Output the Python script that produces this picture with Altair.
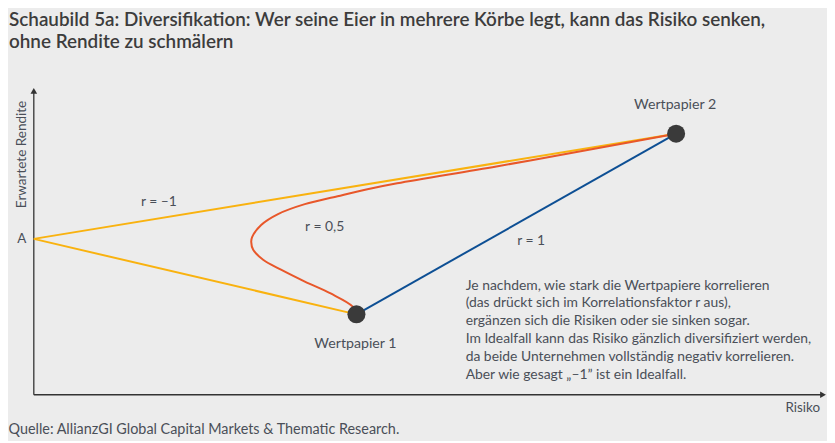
import altair as alt
import pandas as pd

# r = -1 (yellow): Wertpapier 1 -> A -> Wertpapier 2
neg_x = [325, 0, 647]
neg_y = [81, 157, 263]

# r = 1 (blue): straight line
pos_x = [325, 647]
pos_y = [81, 263]

# r = 0,5 (orange) curve
half_x = [325, 321, 299, 273, 249, 231, 221, 219, 220, 229, 246, 273, 306, 336, 366, 466, 566, 647]
half_y = [81, 89, 102, 114, 126, 136, 146, 154, 159, 171, 182, 192, 200, 207, 213, 230, 248, 263]

pt_names = ["Wertpapier 1", "Wertpapier 2"]
pt_x = [325, 647]
pt_y = [81, 263]
pt_label_x = [324, 646]
pt_label_y = [51, 292]

r_labels = ["r = \u20131", "r = 0,5", "r = 1"]
r_x = [126, 293, 501]
r_y = [194, 169, 155]

note_lines = [
    "Je nachdem, wie stark die Wertpapiere korrelieren",
    "(das drückt sich im Korrelationsfaktor r aus),",
    "ergänzen sich die Risiken oder sie sinken sogar.",
    "Im Idealfall kann das Risiko gänzlich diversifiziert werden,",
    "da beide Unternehmen vollständig negativ korrelieren.",
    "Aber wie gesagt \u201e\u20131\u201d ist ein Idealfall.",
]

title_lines = [
    "Schaubild 5a: Diversifikation: Wer seine Eier in mehrere Körbe legt, kann das Risiko senken,",
    "ohne Rendite zu schmälern",
]
source = "Quelle: AllianzGI Global Capital Markets & Thematic Research."

FONT = "Lato"
TXT = "#4a4f58"
XMAX = 799
YMAX = 310

xs = alt.Scale(domain=[0, XMAX], nice=False, zero=False)
ys = alt.Scale(domain=[0, YMAX], nice=False, zero=False)

def X(f="x"):
    return alt.X(f"{f}:Q", scale=xs, axis=None)

def Y(f="y"):
    return alt.Y(f"{f}:Q", scale=ys, axis=None)

lines_df = pd.concat([
    pd.DataFrame({"x": neg_x, "y": neg_y, "o": range(len(neg_x)), "s": "neg"}),
    pd.DataFrame({"x": pos_x, "y": pos_y, "o": range(len(pos_x)), "s": "pos"}),
])
half_df = pd.DataFrame({"x": half_x, "y": half_y, "o": range(len(half_x))})

color_scale = alt.Scale(domain=["neg", "pos"], range=["#f9b20f", "#0d4f94"])

straight = alt.Chart(lines_df).mark_line(strokeWidth=2).encode(
    x=X(), y=Y(), order="o:Q",
    color=alt.Color("s:N", scale=color_scale, legend=None),
    detail="s:N",
)
curve = alt.Chart(half_df).mark_line(strokeWidth=2, color="#e8572a", interpolate="catmull-rom").encode(
    x=X(), y=Y(), order="o:Q"
)

# axes as rules
axes_df = pd.DataFrame({"x": [0, 0], "y": [0, 0], "x2": [0, XMAX - 6], "y2": [YMAX - 6, 0]})
axes = alt.Chart(axes_df).mark_rule(color="#333333", strokeWidth=1.3).encode(
    x=X(), y=Y(), x2="x2:Q", y2="y2:Q"
)
arrow_up = alt.Chart(pd.DataFrame({"x": [0], "y": [YMAX - 4]})).mark_point(
    shape="triangle-up", filled=True, size=45, color="#333333", opacity=1
).encode(x=X(), y=Y())
arrow_right = alt.Chart(pd.DataFrame({"x": [XMAX - 4], "y": [0]})).mark_point(
    shape="triangle-right", filled=True, size=45, color="#333333", opacity=1
).encode(x=X(), y=Y())

pts_df = pd.DataFrame({"name": pt_names, "x": pt_x, "y": pt_y, "lx": pt_label_x, "ly": pt_label_y})
dots = alt.Chart(pts_df).mark_circle(size=330, color="#3a3a3a", opacity=1).encode(x=X(), y=Y())

w_labels = alt.Chart(pts_df).mark_text(font=FONT, fontSize=14.3, color=TXT).encode(
    x=X("lx"), y=Y("ly"), text="name:N"
)

r_df = pd.DataFrame({"t": r_labels, "x": r_x, "y": r_y})
r_text = alt.Chart(r_df).mark_text(font=FONT, fontSize=14, color=TXT).encode(x=X(), y=Y(), text="t:N")

note = alt.Chart(pd.DataFrame({"x": [435], "y": [106], "t": [note_lines]})).mark_text(
    font=FONT, fontSize=14, color=TXT, align="left", baseline="alphabetic", lineHeight=18
).encode(x=X(), y=Y(), text="t")

a_lab = alt.Chart(pd.DataFrame({"x": [-12], "y": [157], "t": ["A"]})).mark_text(
    font=FONT, fontSize=13.5, color=TXT
).encode(x=X(), y=Y(), text="t:N")

ylab = alt.Chart(pd.DataFrame({"x": [-12], "y": [242], "t": ["Erwartete Rendite"]})).mark_text(
    font=FONT, fontSize=13.6, color=TXT, angle=270
).encode(x=X(), y=Y(), text="t:N")

xlab = alt.Chart(pd.DataFrame({"x": [792], "y": [-13], "t": ["Risiko"]})).mark_text(
    font=FONT, fontSize=13.5, color=TXT, align="right"
).encode(x=X(), y=Y(), text="t:N")

src = alt.Chart(pd.DataFrame({"x": [-25.5], "y": [-40], "t": [source]})).mark_text(
    font=FONT, fontSize=14.5, color=TXT, align="left", baseline="alphabetic"
).encode(x=X(), y=Y(), text="t:N")

chart = alt.layer(
    axes, arrow_up, arrow_right, straight, curve, dots, w_labels, r_text, note, a_lab, ylab, xlab, src
).properties(
    width=XMAX,
    height=YMAX,
    autosize=alt.AutoSizeParams(type="none"),
    padding={"left": 26, "top": 78, "right": 0, "bottom": 45},
    background="#ececec",
    title=alt.TitleParams(
        text=title_lines, anchor="start", frame="group", dx=-25, offset=35, fontSize=19,
        fontWeight=600, font=FONT, color="#3c3c3c", lineHeight=22,
    ),
).configure_view(stroke=None)

chart.save("out.html", embed_options={"renderer": "svg", "actions": False})
